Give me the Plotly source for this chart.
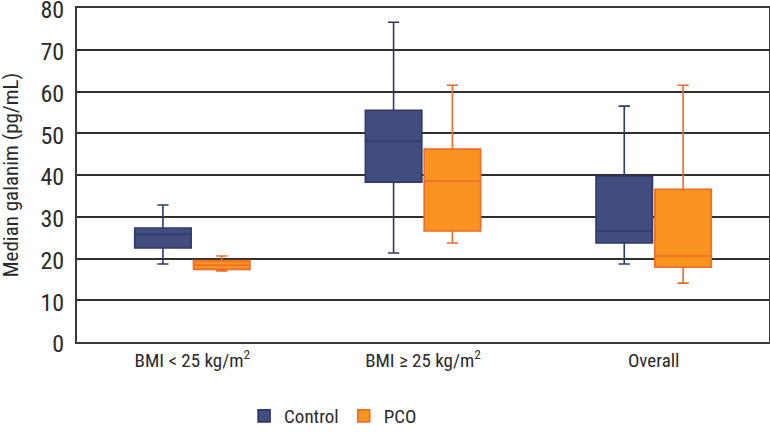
import plotly.graph_objects as go

groups = ["BMI < 25 kg/m<sup>2</sup>", "BMI ≥ 25 kg/m<sup>2</sup>", "Overall"]

# Control group: whiskers, quartiles, medians (pg/mL)
control_low = [18.7, 21.3, 18.7]
control_q1 = [22.5, 38.3, 23.7]
control_median = [25.8, 48.1, 26.6]
control_q3 = [27.3, 55.5, 39.7]
control_high = [32.8, 76.6, 56.5]

# PCO group
pco_low = [17.0, 23.7, 14.1]
pco_q1 = [17.4, 26.6, 17.9]
pco_median = [18.4, 38.5, 20.6]
pco_q3 = [19.5, 46.2, 36.6]
pco_high = [20.6, 61.5, 61.5]

FONT = "Roboto Condensed, Liberation Sans Narrow, DejaVu Sans Condensed, sans-serif"
TEXT = "#2A2A2A"

fig = go.Figure()

fig.add_trace(go.Box(
    name="Control",
    x=groups,
    q1=control_q1, median=control_median, q3=control_q3,
    lowerfence=control_low, upperfence=control_high,
    fillcolor="#414D7E",
    line=dict(color="#2E3A68", width=1.6),
    whiskerwidth=0.2,
    hoverinfo="skip",
))

fig.add_trace(go.Box(
    name="PCO",
    x=groups,
    q1=pco_q1, median=pco_median, q3=pco_q3,
    lowerfence=pco_low, upperfence=pco_high,
    fillcolor="#F7931E",
    line=dict(color="#EE6A2B", width=1.6),
    whiskerwidth=0.2,
    hoverinfo="skip",
))

fig.update_layout(
    width=770,
    height=432,
    margin=dict(l=77, r=1, t=8, b=90, autoexpand=False),
    paper_bgcolor="white",
    plot_bgcolor="white",
    boxmode="group",
    boxgap=0.49,
    boxgroupgap=0.04,
    font=dict(family=FONT, color=TEXT),
    legend=dict(
        orientation="h",
        xref="container", x=0.317, xanchor="left",
        yref="container", y=0.037, yanchor="middle",
        font=dict(size=19, family=FONT, color=TEXT),
        itemwidth=30,
        traceorder="normal",
    ),
)

fig.update_xaxes(
    automargin=False,
    showgrid=False,
    showline=True, linecolor="#3A3A3A", linewidth=2, mirror=True,
    tickfont=dict(size=19, family=FONT, color=TEXT),
    ticks="",
)

fig.update_yaxes(
    automargin=False,
    range=[0, 80],
    tickvals=[0, 10, 20, 30, 40, 50, 60, 70, 80],
    ticklabeloverflow="allow",
    ticklabelshift=2,
    showgrid=True, gridcolor="#2F2F2F", gridwidth=1.5,
    showline=True, linecolor="#3A3A3A", linewidth=2, mirror=True,
    zeroline=False,
    tickfont=dict(size=24, family=FONT, color=TEXT),
    ticks="outside", ticklen=6, tickcolor="rgba(0,0,0,0)",
)

fig.add_annotation(
    text="Median galanim (pg/mL)",
    xref="paper", yref="paper",
    x=-0.095, y=0.5, xanchor="center", yanchor="middle",
    textangle=-90,
    showarrow=False,
    font=dict(size=21, family=FONT, color=TEXT),
)

# page has a default 8px body margin; drop it so the figure sits at 0,0
fig.write_html(
    "out.html",
    config={"displayModeBar": False},
    post_script="document.body.style.margin='0';document.body.style.overflow='hidden';",
)
